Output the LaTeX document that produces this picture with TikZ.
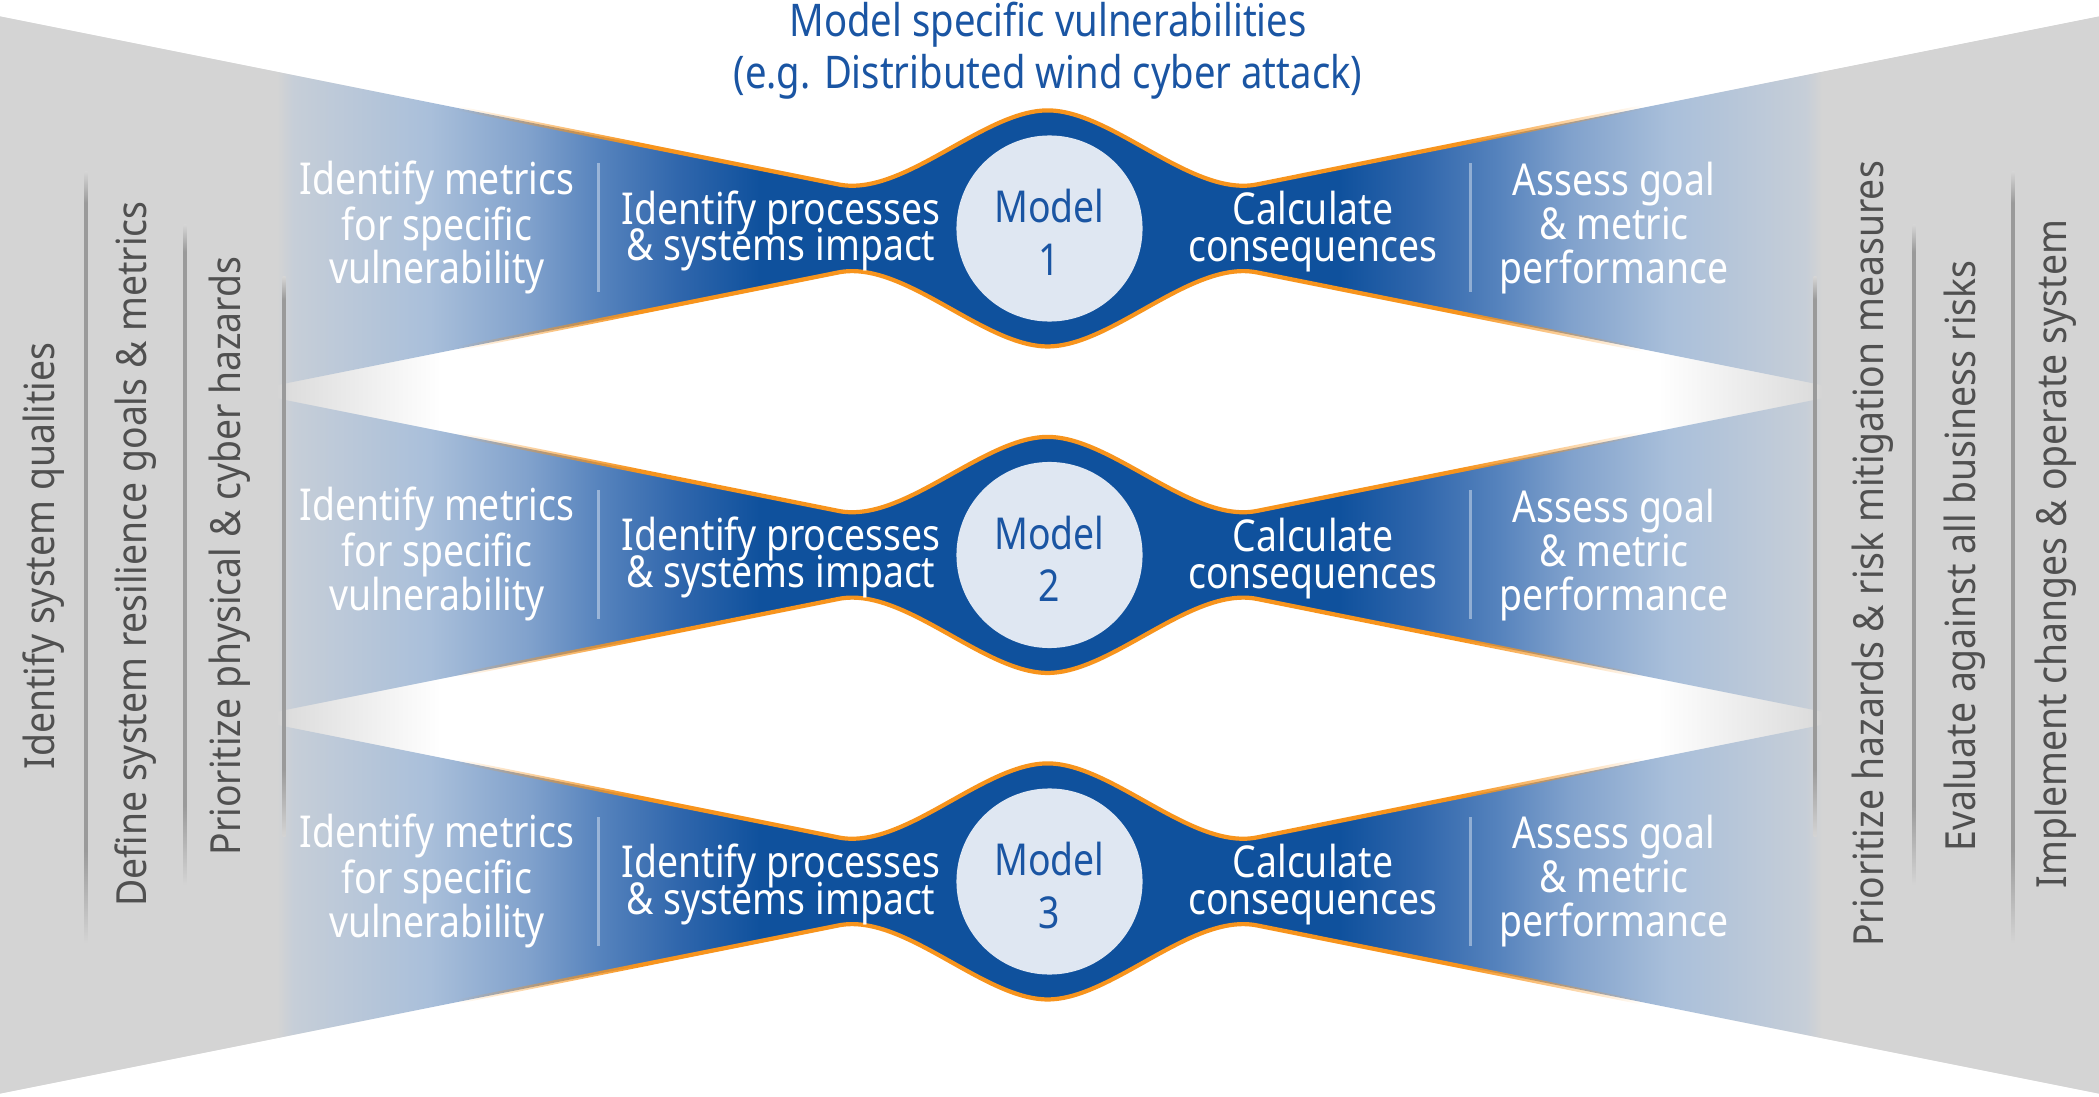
\documentclass[tikz,border=0pt]{standalone}
\usepackage{fontspec}
\setmainfont{Noto Sans}
\newfontfamily\narrowfont[FakeStretch=0.85]{Noto Sans}
\newfontfamily\sidefont[FakeStretch=0.9]{Noto Sans}
\usetikzlibrary{fadings}

\definecolor{colgray}{HTML}{D4D4D4}
\definecolor{tipgray}{HTML}{DDDDDD}
\definecolor{bandA}{HTML}{C6CED8}
\definecolor{bandB}{HTML}{A9BFDA}
\definecolor{bandC}{HTML}{80A1CC}
\definecolor{bandD}{HTML}{5683BD}
\definecolor{bandE}{HTML}{2F66AC}
\definecolor{deepblue}{HTML}{0F519D}
\definecolor{ringorange}{HTML}{F7941D}
\definecolor{modelfill}{HTML}{DFE7F2}
\definecolor{titleblue}{HTML}{1A55A3}
\definecolor{sidegray}{HTML}{505050}
\definecolor{ruleline}{HTML}{9A9A9A}

% colour runs, 25bp..75bp = left..right edge of the picture
\pgfdeclarehorizontalshading{bandshade}{100bp}{color(0bp)=(colgray); color(31.6bp)=(colgray);
  color(32.0bp)=(bandA); color(35.24bp)=(bandB); color(37.63bp)=(bandC); color(39.29bp)=(bandD);
  color(41.2bp)=(bandE); color(43.1bp)=(deepblue); color(56.9bp)=(deepblue); color(58.8bp)=(bandE);
  color(60.71bp)=(bandD); color(62.37bp)=(bandC); color(64.76bp)=(bandB); color(68.0bp)=(bandA);
  color(68.4bp)=(colgray); color(100bp)=(colgray)}
\pgfdeclarehorizontalshading{gapshade}{100bp}{color(0bp)=(colgray); color(31.6bp)=(colgray);
  color(31.9bp)=(tipgray); color(35.5bp)=(white); color(64.5bp)=(white); color(68.1bp)=(tipgray);
  color(68.4bp)=(colgray); color(100bp)=(colgray)}
\pgfdeclareverticalshading{ruleshade}{100bp}{color(0bp)=(colgray); color(25bp)=(colgray);
  color(31bp)=(ruleline); color(73bp)=(ruleline); color(75bp)=(colgray); color(100bp)=(colgray)}
\pgfdeclarehorizontalshading{edgemask}{100bp}{color(0bp)=(black); color(35.96bp)=(black);
  color(40.25bp)=(white); color(59.75bp)=(white); color(64.04bp)=(black); color(100bp)=(black)}
\pgfdeclarefading{edgefade}{\pgfuseshading{edgemask}}

\begin{document}
\begin{tikzpicture}[x=0.01cm, y=-0.01cm,
        upper edge/.style={insert path={(0,#1-212) -- (840,#1-44) .. controls (905,#1-31) and (985,#1-118) .. (1049.5,#1-118)
          .. controls (1114,#1-118) and (1194,#1-31) .. (1259,#1-44) -- (2099,#1-212)}},
        lower edge/.style={insert path={-- (2099,#1+212) -- (1259,#1+44) .. controls (1194,#1+31) and (1114,#1+118) .. (1049.5,#1+118)
          .. controls (985,#1+118) and (905,#1+31) .. (840,#1+44) -- (0,#1+212)}},
        orangeedge/.style={draw=ringorange, line width=1.2pt, path fading=edgefade},
        task/.style={text=white, align=center, anchor=base, inner sep=0pt,
        font=\narrowfont\fontsize{12.5}{12.5}\selectfont},
        tight task/.style={task, font=\narrowfont\fontsize{12.5}{10.5}\selectfont},
        modelring/.style={circle, fill=modelfill, minimum size=1.86cm, inner sep=0pt},
        modeltext/.style={text=titleblue, align=center, anchor=base, inner sep=0pt,
        font=\narrowfont\fontsize{12.5}{14.8}\selectfont},
        sidenote/.style={text=sidegray, rotate=90, inner sep=0pt, font=\sidefont\fontsize{11.8}{12}\selectfont}]
        \useasboundingbox (0,0) rectangle (2099,1097);

        % grey wings and the white gaps between the rows
        \shade[shading=gapshade] [upper edge=228.5] [lower edge=881.5] -- cycle;

        % base of a text = base of its last line
        \foreach \cy [count=\i] in {228.5,555,881.5}{
            \shade[shading=bandshade] [upper edge=\cy] [lower edge=\cy] -- cycle;
            \path[orangeedge] [upper edge=\cy] [lower edge=\cy];
            \fill[white, opacity=0.4] (597,\cy-65) rectangle (600,\cy+64);
            \fill[white, opacity=0.4] (1469,\cy-65) rectangle (1472,\cy+64);
            \node[modelring] (ring\i) at (1049.5,\cy) {};
            \node[modeltext] (model\i) at (1049.5,\cy+46.5) {Model\\\i};
            \node[task] (metrics\i) at (437,\cy+55.5) {Identify metrics\\[-0.5pt]for specific\\vulnerability};
            \node[tight task] (impact\i) at (781,\cy+32.5) {Identify processes\\[-2.7pt]\& systems impact};
            \node[tight task] (conseq\i) at (1313,\cy+33) {Calculate\\consequences};
            \node[task] (assess\i) at (1614,\cy+55) {Assess goal\\\& metric\\performance};
        }

        % column rules
        \foreach \x/\ya/\yb in {86/172/943, 185/225/885, 284/277/836, 1815/277/836, 1914/225/885, 2013/172/943}
            \shade[shading=ruleshade] (\x-1.5,\ya) rectangle (\x+1.5,\yb);

        \node[modeltext, font=\narrowfont\fontsize{12.8}{14.8}\selectfont] (title) at (1048,89)
        {Model specific vulnerabilities\\(e.g. Distributed wind cyber attack)};

        \node[sidenote] (qualities) at (44,556) {Identify system qualities};
        \node[sidenote] (goals) at (136,554) {Define system resilience goals \& metrics};
        \node[sidenote] (hazards) at (230,556) {Prioritize physical \& cyber hazards};
        \node[sidenote] (mitigation) at (1873,554) {Prioritize hazards \& risk mitigation measures};
        \node[sidenote] (risks) at (1965,556) {Evaluate against all business risks};
        \node[sidenote] (operate) at (2056,554) {Implement changes \& operate system};
    \end{tikzpicture}
\end{document}
